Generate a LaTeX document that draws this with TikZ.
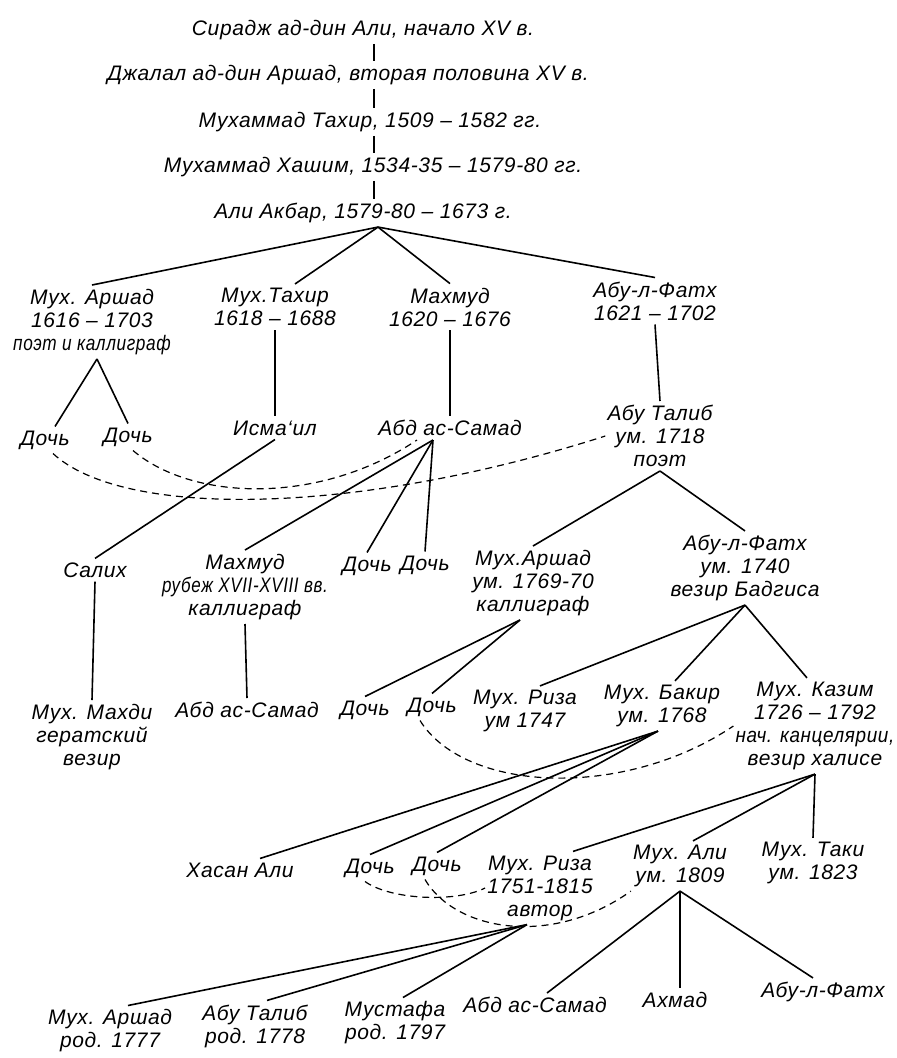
\documentclass[tikz,border=0pt]{standalone}
\usepackage{fontspec}
\setmainfont{Liberation Sans}[LetterSpace=3]
\newcommand{\narrowline}[2]{{\addfontfeatures{FakeStretch=#1}#2}}
\tikzstyle{kin} = [line width=1.6pt]
\tikzstyle{wed} = [line width=1.2pt,dash pattern=on 7pt off 5pt]

\begin{document}
\begin{tikzpicture}
		[
		x=1pt,y=-1pt,
		person/.style={
		align=center,
		inner xsep=2pt,
		inner ysep=4pt,
		font=\fontsize{21}{23}\selectfont\itshape}
		]
		\useasboundingbox (0,0) rectangle (897,1058);
		\coordinate (trunk) at (374,0);
		\node[person](siradzh) at (363,30) {Сирадж ад-дин Али, начало XV в.};
		\node[person](dzhalal) at (348,75) {Джалал ад-дин Аршад, вторая половина XV в.};
		\node[person](tahir_top) at (370,122) {Мухаммад Тахир, 1509 – 1582 гг.};
		\node[person](hashim) at (373,167) {Мухаммад Хашим, 1534-35 – 1579-80 гг.};
		\node[person](ali_akbar) at (363,213) {Али Акбар, 1579-80 – 1673 г.};
		\node[person](muh_arshad) at (92,322) {Мух. Аршад\\1616 – 1703\\\narrowline{0.82}{поэт и каллиграф}};
		\node[person](muh_tahir) at (275,307) {Мух.Тахир\\1618 – 1688};
		\node[person](mahmud) at (450,307) {Махмуд\\1620 – 1676};
		\node[person](abul_fath) at (655,301) {Абу-л-Фатх\\1621 – 1702};
		\node[person](doch_a) at (45,440) {Дочь};
		\node[person](doch_b) at (128,437) {Дочь};
		\node[person](ismail) at (275,428) {Исма‘ил};
		\node[person](abd_samad) at (450,428) {Абд ас-Самад};
		\node[person](abu_talib) at (660,436) {Абу Талиб\\ум. 1718\\поэт};
		\node[person](salih) at (95,570) {Салих};
		\node[person](mahmud_b) at (245,587) {Махмуд\\\narrowline{0.81}{рубеж XVII-XVIII вв.}\\каллиграф};
		\node[person](doch_c) at (367,566) {Дочь};
		\node[person](doch_d) at (425,565) {Дочь};
		\node[person](muh_arshad_b) at (533,583) {Мух.Аршад\\ум. 1769-70\\каллиграф};
		\node[person](abul_fath_b) at (745,568) {Абу-л-Фатх\\ум. 1740\\везир Бадгиса};
		\node[person](mahdi) at (92,737) {Мух. Махди\\гератский\\везир};
		\node[person](abd_samad_b) at (247,710) {Абд ас-Самад};
		\node[person](doch_e) at (365,710) {Дочь};
		\node[person](doch_f) at (432,707) {Дочь};
		\node[person](riza_a) at (525,711) {Мух. Риза\\ум 1747};
		\node[person](bakir) at (662,706) {Мух. Бакир\\ум. 1768};
		\node[person](kazim) at (815,726) {Мух. Казим\\1726 – 1792\\\narrowline{0.9}{нач. канцелярии,}\\везир халисе};
		\node[person](hasan_ali) at (240,870) {Хасан Али};
		\node[person](doch_g) at (370,868) {Дочь};
		\node[person](doch_h) at (437,866) {Дочь};
		\node[person](riza_b) at (540,888) {Мух. Риза\\1751-1815\\автор};
		\node[person](muh_ali) at (680,866) {Мух. Али\\ум. 1809};
		\node[person](taki) at (813,863) {Мух. Таки\\ум. 1823};
		\node[person](arshad_c) at (110,1031) {Мух. Аршад\\род. 1777};
		\node[person](talib_c) at (255,1026) {Абу Талиб\\род. 1778};
		\node[person](mustafa) at (395,1023) {Мустафа\\род. 1797};
		\node[person](abd_samad_c) at (535,1005) {Абд ас-Самад};
		\node[person](ahmad) at (675,1000) {Ахмад};
		\node[person](abul_fath_c) at (823,992) {Абу-л-Фатх};
		\draw[kin] (siradzh.south -| trunk) -- (dzhalal.north -| trunk);
		\draw[kin] (dzhalal.south -| trunk) -- (tahir_top.north -| trunk);
		\draw[kin] (tahir_top.south -| trunk) -- (hashim.north -| trunk);
		\draw[kin] (hashim.south -| trunk) -- (ali_akbar.north -| trunk);
		\draw[kin] ([xshift=4pt]ali_akbar.south -| trunk) -- (muh_arshad.north);
		\draw[kin] ([xshift=4pt]ali_akbar.south -| trunk) -- ([xshift=20pt]muh_tahir.north);
		\draw[kin] ([xshift=4pt]ali_akbar.south -| trunk) -- (mahmud.north);
		\draw[kin] ([xshift=4pt]ali_akbar.south -| trunk) -- (abul_fath.north);
		\draw[kin] ([xshift=5pt]muh_arshad.south) -- ([xshift=10pt]doch_a.north);
		\draw[kin] ([xshift=5pt]muh_arshad.south) -- (doch_b.north);
		\draw[kin] (muh_tahir.south) -- (ismail.north);
		\draw[kin] (mahmud.south) -- (abd_samad.north);
		\draw[kin] (abul_fath.south) -- (abu_talib.north);
		\draw[kin] (ismail.south) -- (salih.north);
		\draw[kin] ([xshift=-17pt]abd_samad.south) -- (mahmud_b.north);
		\draw[kin] ([xshift=-17pt]abd_samad.south) -- (doch_c.north);
		\draw[kin] ([xshift=-17pt]abd_samad.south) -- (doch_d.north);
		\draw[kin] (abu_talib.south) -- (muh_arshad_b.north);
		\draw[kin] (abu_talib.south) -- (abul_fath_b.north);
		\draw[kin] (salih.south) -- (mahdi.north);
		\draw[kin] (mahmud_b.south) -- (abd_samad_b.north);
		\draw[kin] ([xshift=-13pt]muh_arshad_b.south) -- (doch_e.north);
		\draw[kin] ([xshift=-13pt]muh_arshad_b.south) -- (doch_f.north);
		\draw[kin] (abul_fath_b.south) -- ([xshift=15pt]riza_a.north);
		\draw[kin] (abul_fath_b.south) -- ([xshift=13pt]bakir.north);
		\draw[kin] (abul_fath_b.south) -- ([xshift=-8pt]kazim.north);
		\draw[kin] ([xshift=-4pt]bakir.south) -- ([xshift=20pt]hasan_ali.north);
		\draw[kin] ([xshift=-4pt]bakir.south) -- (doch_g.north);
		\draw[kin] ([xshift=-4pt]bakir.south) -- (doch_h.north);
		\draw[kin] (kazim.south) -- ([xshift=33pt]riza_b.north);
		\draw[kin] (kazim.south) -- ([xshift=13pt]muh_ali.north);
		\draw[kin] (kazim.south) -- (taki.north);
		\draw[kin] ([xshift=-13pt]riza_b.south) -- ([xshift=18pt]arshad_c.north);
		\draw[kin] ([xshift=-13pt]riza_b.south) -- ([xshift=12pt]talib_c.north);
		\draw[kin] ([xshift=-13pt]riza_b.south) -- ([xshift=8pt]mustafa.north);
		\draw[kin] (muh_ali.south) -- ([xshift=12pt]abd_samad_c.north);
		\draw[kin] (muh_ali.south) -- ([xshift=5pt]ahmad.north);
		\draw[kin] (muh_ali.south) -- ([xshift=-10pt]abul_fath_c.north);
		\draw[wed] ([xshift=8pt]doch_a.south) .. controls +(70,65) and +(-250,80) .. (abu_talib.west);
		\draw[wed] ([xshift=5pt]doch_b.south) .. controls +(60,51) and +(-97,65) .. ([xshift=-33pt]abd_samad.south);
		\draw[wed] ([xshift=-12pt]doch_f.south) .. controls +(45,72) and +(-110,74) .. (kazim.west);
		\draw[wed] ([xshift=-5pt]doch_g.south) .. controls +(25,18) and +(-30,15) .. (riza_b.west);
		\draw[wed] ([xshift=-12pt]doch_h.south) .. controls +(30,51) and +(-80,57) .. (muh_ali.south west);
\end{tikzpicture}
\end{document}
